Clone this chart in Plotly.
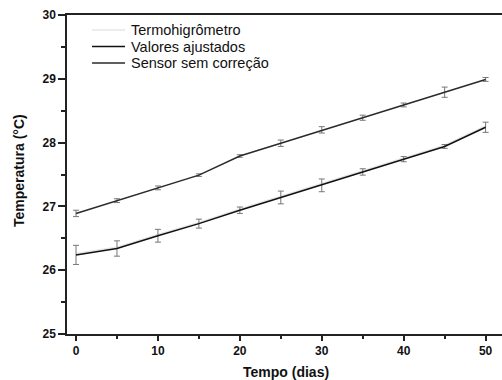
import plotly.graph_objects as go

dias = [0, 5, 10, 15, 20, 25, 30, 35, 40, 45, 50]

# Sensor sem correção (upper curve)
sensor = [26.89, 27.09, 27.29, 27.49, 27.79, 27.99, 28.2, 28.39, 28.59, 28.79, 28.99]
sensor_err = [0.05, 0.03, 0.03, 0.02, 0.02, 0.05, 0.05, 0.04, 0.03, 0.08, 0.03]

# Valores ajustados (lower curve)
ajustados = [26.24, 26.34, 26.54, 26.73, 26.94, 27.14, 27.33, 27.54, 27.74, 27.94, 28.24]
ajustados_err = [0.15, 0.12, 0.1, 0.07, 0.05, 0.1, 0.1, 0.05, 0.04, 0.03, 0.08]

# Termohigrômetro (light gray, nearly coincident with lower curve)
termo = [26.26, 26.36, 26.56, 26.75, 26.96, 27.16, 27.36, 27.57, 27.77, 27.96, 28.26]

series_names = ["Termohigrômetro", "Valores ajustados", "Sensor sem correção"]
series_colors = ["#e6e6e6", "#111111", "#2a2a2a"]

W, H = 502, 380
ML, MR, MT, MB = 67, 0, 15, 46
PW, PH = W - ML - MR, H - MT - MB


def px2paper_x(px):
    return (px - ML) / PW


def px2paper_y(py):
    return (H - MB - py) / PH


fig = go.Figure()

fig.add_trace(go.Scatter(
    x=dias, y=termo, mode="lines", name=series_names[0], showlegend=False,
    line=dict(color=series_colors[0], width=1.5),
))
fig.add_trace(go.Scatter(
    x=dias, y=ajustados, mode="lines", name=series_names[1], showlegend=False,
    line=dict(color=series_colors[1], width=1.5),
    error_y=dict(type="data", array=ajustados_err, visible=True,
                 color="#777777", thickness=1, width=3),
))
fig.add_trace(go.Scatter(
    x=dias, y=sensor, mode="lines", name=series_names[2], showlegend=False,
    line=dict(color=series_colors[2], width=1.5),
    error_y=dict(type="data", array=sensor_err, visible=True,
                 color="#777777", thickness=1, width=3),
))

font_family = "Arial, Liberation Sans, sans-serif"

# manual legend (line samples + labels)
annotations = []
shapes = []
legend_rows = [30, 46.5, 63]
for name, color, row in zip(series_names, series_colors, legend_rows):
    shapes.append(dict(
        type="line", xref="paper", yref="paper",
        x0=px2paper_x(92), x1=px2paper_x(125),
        y0=px2paper_y(row), y1=px2paper_y(row),
        line=dict(color=color, width=1.5),
    ))
    annotations.append(dict(
        text=name, xref="paper", yref="paper",
        x=px2paper_x(129), y=px2paper_y(row),
        xanchor="left", yanchor="middle", showarrow=False,
        font=dict(size=14.5, family=font_family, color="#111111"),
    ))

# axis titles
annotations.append(dict(
    text="<b>Tempo (dias)</b>", xref="paper", yref="paper",
    x=px2paper_x(286), y=px2paper_y(372.5),
    xanchor="center", yanchor="middle", showarrow=False,
    font=dict(size=14, family=font_family, color="#111111"),
))
annotations.append(dict(
    text="<b>Temperatura (°C)</b>", xref="paper", yref="paper",
    x=px2paper_x(19), y=px2paper_y(171),
    xanchor="center", yanchor="middle", showarrow=False, textangle=-90,
    font=dict(size=14, family=font_family, color="#111111"),
))

fig.update_layout(
    width=W, height=H,
    margin=dict(l=ML, r=MR, t=MT, b=MB),
    paper_bgcolor="white", plot_bgcolor="white",
    font=dict(family=font_family, color="#111111"),
    showlegend=False,
    annotations=annotations,
    shapes=shapes,
    xaxis=dict(
        range=[-1.1, 52.0], automargin=False,
        tickvals=[0, 10, 20, 30, 40, 50],
        ticktext=["<b>0</b>", "<b>10</b>", "<b>20</b>", "<b>30</b>", "<b>40</b>", "<b>50</b>"],
        ticks="outside", ticklen=5, tickwidth=1.5, tickcolor="#222222",
        minor=dict(tickvals=[5, 15, 25, 35, 45], ticks="outside", ticklen=3,
                   tickwidth=1.5, tickcolor="#222222"),
        showline=True, linecolor="#222222", linewidth=1.5, mirror=True,
        showgrid=False, zeroline=False,
        tickfont=dict(size=12, family=font_family, color="#111111"),
    ),
    yaxis=dict(
        range=[25, 30], automargin=False,
        tickvals=[25, 26, 27, 28, 29, 30],
        ticktext=["<b>25</b>", "<b>26</b>", "<b>27</b>", "<b>28</b>", "<b>29</b>", "<b>30</b>"],
        ticks="outside", ticklen=7, tickwidth=1.5, tickcolor="#222222",
        minor=dict(tickvals=[25.5, 26.5, 27.5, 28.5, 29.5], ticks="outside", ticklen=4,
                   tickwidth=1.5, tickcolor="#222222"),
        showline=True, linecolor="#222222", linewidth=1.5,
        showgrid=False, zeroline=False,
        tickfont=dict(size=12, family=font_family, color="#111111"),
    ),
)

fig.write_html(
    "out.html",
    config={"displayModeBar": False},
    post_script="document.body.style.margin='0';document.body.style.overflow='hidden';",
)
